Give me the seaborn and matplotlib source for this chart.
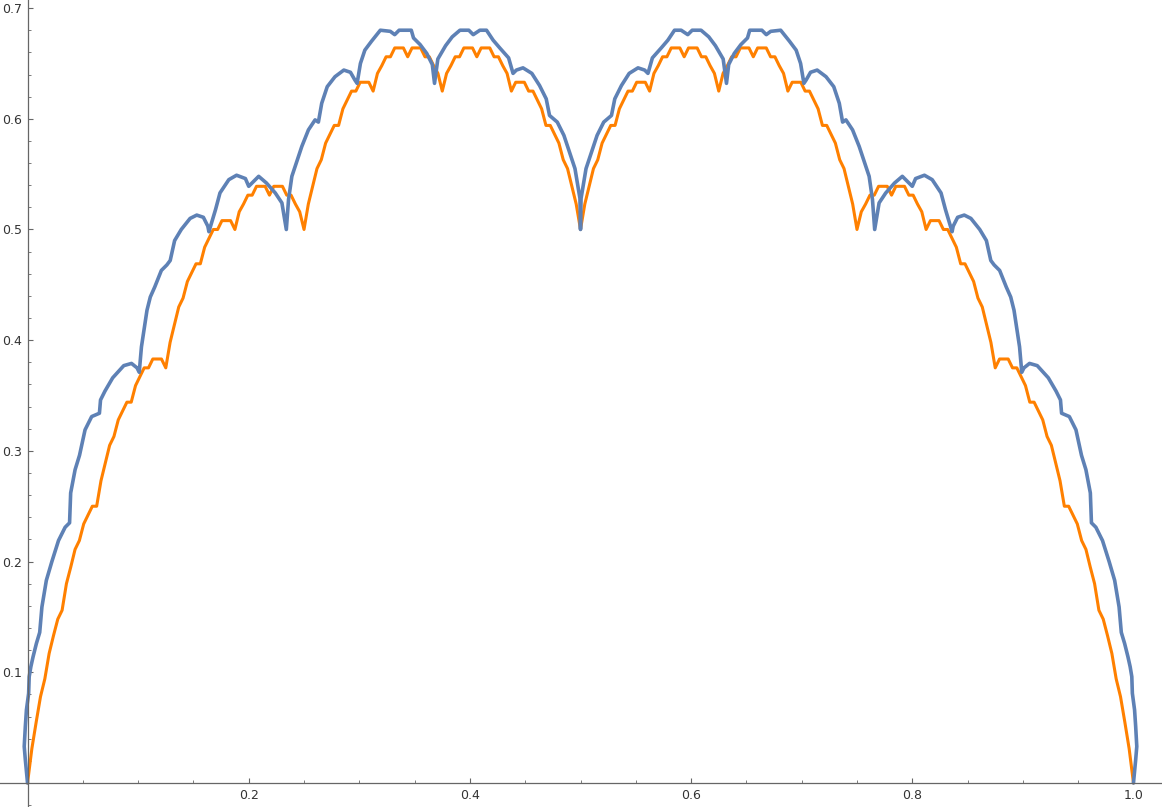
import numpy as np
import matplotlib
matplotlib.use("Agg")
import matplotlib.pyplot as plt
import seaborn as sns
from matplotlib.ticker import MultipleLocator, FixedLocator

# orange curve, read on an even grid of 257 points from 0 to 1
orange_y = [
    0.000, 0.031, 0.055, 0.078, 0.094, 0.117, 0.133, 0.148, 0.156, 0.180, 0.195, 0.211, 0.219, 0.234, 0.242, 0.250,
    0.250, 0.273, 0.289, 0.305, 0.313, 0.328, 0.336, 0.344, 0.344, 0.359, 0.367, 0.375, 0.375, 0.383, 0.383, 0.383,
    0.375, 0.398, 0.414, 0.430, 0.438, 0.453, 0.461, 0.469, 0.469, 0.484, 0.492, 0.500, 0.500, 0.508, 0.508, 0.508,
    0.500, 0.516, 0.523, 0.531, 0.531, 0.539, 0.539, 0.539, 0.531, 0.539, 0.539, 0.539, 0.531, 0.531, 0.523, 0.516,
    0.500, 0.523, 0.539, 0.555, 0.563, 0.578, 0.586, 0.594, 0.594, 0.609, 0.617, 0.625, 0.625, 0.633, 0.633, 0.633,
    0.625, 0.641, 0.648, 0.656, 0.656, 0.664, 0.664, 0.664, 0.656, 0.664, 0.664, 0.664, 0.656, 0.656, 0.648, 0.641,
    0.625, 0.641, 0.648, 0.656, 0.656, 0.664, 0.664, 0.664, 0.656, 0.664, 0.664, 0.664, 0.656, 0.656, 0.648, 0.641,
    0.625, 0.633, 0.633, 0.633, 0.625, 0.625, 0.617, 0.609, 0.594, 0.594, 0.586, 0.578, 0.563, 0.555, 0.539, 0.523,
    0.500,
    0.523, 0.539, 0.555, 0.563, 0.578, 0.586, 0.594, 0.594, 0.609, 0.617, 0.625, 0.625, 0.633, 0.633, 0.633, 0.625,
    0.641, 0.648, 0.656, 0.656, 0.664, 0.664, 0.664, 0.656, 0.664, 0.664, 0.664, 0.656, 0.656, 0.648, 0.641, 0.625,
    0.641, 0.648, 0.656, 0.656, 0.664, 0.664, 0.664, 0.656, 0.664, 0.664, 0.664, 0.656, 0.656, 0.648, 0.641, 0.625,
    0.633, 0.633, 0.633, 0.625, 0.625, 0.617, 0.609, 0.594, 0.594, 0.586, 0.578, 0.563, 0.555, 0.539, 0.523, 0.500,
    0.516, 0.523, 0.531, 0.531, 0.539, 0.539, 0.539, 0.531, 0.539, 0.539, 0.539, 0.531, 0.531, 0.523, 0.516, 0.500,
    0.508, 0.508, 0.508, 0.500, 0.500, 0.492, 0.484, 0.469, 0.469, 0.461, 0.453, 0.438, 0.430, 0.414, 0.398, 0.375,
    0.383, 0.383, 0.383, 0.375, 0.375, 0.367, 0.359, 0.344, 0.344, 0.336, 0.328, 0.313, 0.305, 0.289, 0.273, 0.250,
    0.250, 0.242, 0.234, 0.219, 0.211, 0.195, 0.180, 0.156, 0.148, 0.133, 0.117, 0.094, 0.078, 0.055, 0.031, 0.000,
]
orange_x = np.linspace(0, 1, len(orange_y))

# blue curve, points (x, y)
blue_x = [
    0.000, -0.002, -0.003, -0.002, -0.001, 0.001, 0.0015, 0.003, 0.005, 0.008, 0.011, 0.012, 0.013, 0.015, 0.017,
    0.022, 0.028, 0.034, 0.038, 0.039, 0.043, 0.047, 0.052, 0.058, 0.065, 0.066, 0.070, 0.077, 0.087, 0.094,
    0.099, 0.101, 0.103, 0.108, 0.111, 0.115, 0.121, 0.126, 0.129, 0.133, 0.139, 0.147, 0.153, 0.159, 0.163,
    0.164, 0.170, 0.174, 0.182, 0.189, 0.197, 0.200, 0.209, 0.216, 0.224, 0.230, 0.234, 0.236, 0.239, 0.243,
    0.248, 0.254, 0.260, 0.263, 0.266, 0.271, 0.278, 0.286, 0.292, 0.296, 0.298, 0.301, 0.305, 0.311, 0.319,
    0.328, 0.332, 0.336, 0.347, 0.349, 0.355, 0.361, 0.366, 0.368, 0.371, 0.378, 0.384, 0.391, 0.399, 0.403,
    0.409, 0.415, 0.421, 0.427, 0.435, 0.439, 0.442, 0.448, 0.456, 0.463, 0.469, 0.472, 0.479, 0.485, 0.491,
    0.495, 0.4995, 0.500,
    0.5005, 0.505, 0.509, 0.515, 0.521, 0.528, 0.531, 0.537, 0.544, 0.552, 0.558, 0.561, 0.565, 0.573, 0.579,
    0.585, 0.591, 0.597, 0.601, 0.609, 0.616, 0.622, 0.629, 0.632, 0.634, 0.639, 0.645, 0.651, 0.653, 0.664,
    0.668, 0.672, 0.681, 0.689, 0.695, 0.699, 0.702, 0.704, 0.708, 0.714, 0.722, 0.729, 0.734, 0.737, 0.740,
    0.746, 0.752, 0.757, 0.761, 0.764, 0.766, 0.770, 0.776, 0.784, 0.791, 0.800, 0.803, 0.811, 0.818, 0.826,
    0.830, 0.836, 0.837, 0.841, 0.847, 0.853, 0.861, 0.867, 0.871, 0.874, 0.879, 0.885, 0.889, 0.892, 0.897,
    0.899, 0.901, 0.906, 0.913, 0.923, 0.930, 0.934, 0.935, 0.942, 0.948, 0.953, 0.957, 0.961, 0.962, 0.966,
    0.972, 0.978, 0.983, 0.985, 0.987, 0.988, 0.989, 0.992, 0.995, 0.997, 0.9985, 0.999, 1.001, 1.002, 1.003,
    1.002, 1.000,
]
blue_y = [
    0.000, 0.021, 0.033, 0.051, 0.066, 0.081, 0.096, 0.105, 0.114, 0.126, 0.136, 0.148, 0.159, 0.171, 0.183,
    0.200, 0.219, 0.231, 0.235, 0.262, 0.283, 0.296, 0.319, 0.331, 0.334, 0.346, 0.354, 0.366, 0.377, 0.379,
    0.375, 0.371, 0.394, 0.427, 0.439, 0.448, 0.463, 0.468, 0.472, 0.490, 0.500, 0.510, 0.513, 0.511, 0.503,
    0.498, 0.518, 0.533, 0.545, 0.549, 0.546, 0.539, 0.548, 0.542, 0.533, 0.524, 0.500, 0.527, 0.548, 0.560,
    0.575, 0.590, 0.599, 0.597, 0.614, 0.629, 0.638, 0.644, 0.642, 0.635, 0.632, 0.650, 0.662, 0.670, 0.680,
    0.679, 0.676, 0.680, 0.680, 0.673, 0.667, 0.659, 0.649, 0.632, 0.654, 0.666, 0.674, 0.680, 0.680, 0.676,
    0.680, 0.680, 0.671, 0.664, 0.655, 0.641, 0.644, 0.646, 0.641, 0.630, 0.618, 0.603, 0.597, 0.585, 0.567,
    0.555, 0.528, 0.500,
    0.528, 0.555, 0.567, 0.585, 0.597, 0.603, 0.618, 0.630, 0.641, 0.646, 0.644, 0.641, 0.655, 0.664, 0.671,
    0.680, 0.680, 0.676, 0.680, 0.680, 0.674, 0.666, 0.654, 0.632, 0.649, 0.659, 0.667, 0.673, 0.680, 0.680,
    0.676, 0.679, 0.680, 0.670, 0.662, 0.650, 0.632, 0.635, 0.642, 0.644, 0.638, 0.629, 0.614, 0.597, 0.599,
    0.590, 0.575, 0.560, 0.548, 0.527, 0.500, 0.524, 0.533, 0.542, 0.548, 0.539, 0.546, 0.549, 0.545, 0.533,
    0.518, 0.498, 0.503, 0.511, 0.513, 0.510, 0.500, 0.490, 0.472, 0.468, 0.463, 0.448, 0.439, 0.427, 0.394,
    0.371, 0.375, 0.379, 0.377, 0.366, 0.354, 0.346, 0.334, 0.331, 0.319, 0.296, 0.283, 0.262, 0.235, 0.231,
    0.219, 0.200, 0.183, 0.171, 0.159, 0.148, 0.136, 0.126, 0.114, 0.105, 0.096, 0.081, 0.066, 0.051, 0.033,
    0.021, 0.000,
]

x_ticks = [0.2, 0.4, 0.6, 0.8, 1.0]
x_tick_labels = ["0.2", "0.4", "0.6", "0.8", "1.0"]
y_ticks = [0.1, 0.2, 0.3, 0.4, 0.5, 0.6, 0.7]
y_tick_labels = ["0.1", "0.2", "0.3", "0.4", "0.5", "0.6", "0.7"]

sns.set_style("white")
plt.rcParams["font.family"] = ["DejaVu Sans"]

fig = plt.figure(figsize=(11.62, 8.07), dpi=100)
ax = fig.add_axes([0, 0, 1, 1])

sns.lineplot(x=orange_x, y=orange_y, sort=False, estimator=None,
             color="#FF8000", linewidth=2.2, ax=ax)
sns.lineplot(x=blue_x, y=blue_y, sort=False, estimator=None,
             color="#5E81B5", linewidth=2.6, ax=ax)

ax.set_xlim(-0.0249, 1.0258)
ax.set_ylim(-0.0217, 0.7073)

# axes crossing at the origin, Mathematica style
ax.spines["top"].set_visible(False)
ax.spines["right"].set_visible(False)
ax.spines["left"].set_position(("data", 0))
ax.spines["bottom"].set_position(("data", 0))
for side in ["left", "bottom"]:
    ax.spines[side].set_color("#666666")
    ax.spines[side].set_linewidth(0.9)

ax.xaxis.set_major_locator(FixedLocator(x_ticks))
ax.set_xticklabels(x_tick_labels)
ax.yaxis.set_major_locator(FixedLocator(y_ticks))
ax.set_yticklabels(y_tick_labels)
ax.xaxis.set_minor_locator(MultipleLocator(0.05))
ax.yaxis.set_minor_locator(MultipleLocator(0.02))

ax.tick_params(which="major", direction="in", length=3.6, width=0.8, color="#666666",
               labelsize=9, labelcolor="#333333", pad=4)
ax.tick_params(which="minor", direction="in", length=2.4, width=0.6, color="#666666")
ax.tick_params(axis="x", which="both", bottom=True, top=False)
ax.tick_params(axis="y", which="both", left=True, right=False)

ax.set_xlabel("")
ax.set_ylabel("")
ax.grid(False)

plt.savefig("out.png", dpi=100)
